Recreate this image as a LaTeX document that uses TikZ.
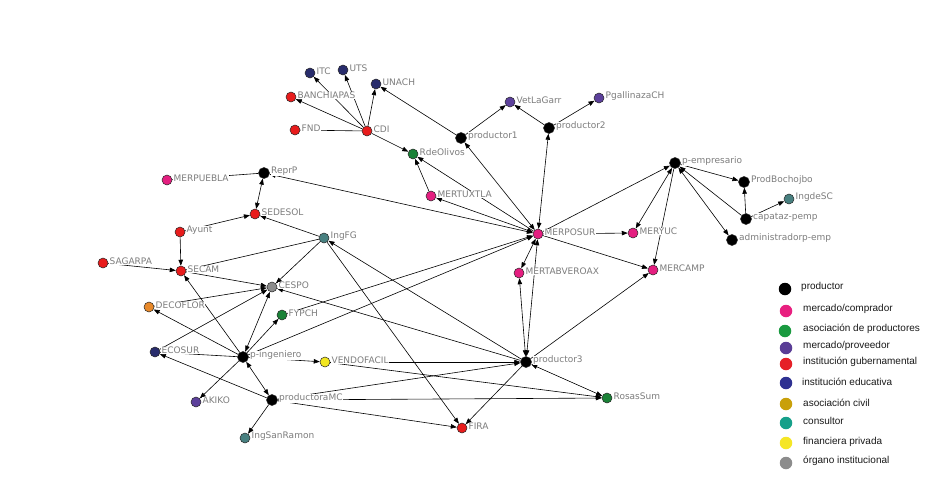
\documentclass[tikz,border=0pt]{standalone}
\usepackage{fontspec}
\newfontfamily\lblfont{DejaVu Sans}
\newfontfamily\legfont{Liberation Sans}
\usetikzlibrary{arrows.meta}
\definecolor{cpink}{RGB}{228,30,128}
\definecolor{cred}{RGB}{232,28,28}
\definecolor{cgreen}{RGB}{26,130,55}
\definecolor{cpurple}{RGB}{92,64,155}
\definecolor{cnavy}{RGB}{40,44,108}
\definecolor{cteal}{RGB}{72,128,128}
\definecolor{cgray}{RGB}{140,140,140}
\definecolor{corange}{RGB}{232,137,42}
\definecolor{cyellow}{RGB}{242,230,32}
\definecolor{labelgray}{RGB}{125,125,125}
\definecolor{lpink}{RGB}{232,32,128}
\definecolor{lgreen}{RGB}{26,154,64}
\definecolor{lpurple}{RGB}{90,61,150}
\definecolor{lred}{RGB}{229,32,39}
\definecolor{lnavy}{RGB}{46,49,146}
\definecolor{lcivil}{RGB}{201,160,10}
\definecolor{lteal}{RGB}{22,160,138}
\definecolor{lyellow}{RGB}{245,230,37}
\definecolor{lgray}{RGB}{140,140,140}
\pgfdeclarelayer{back}
\pgfdeclarelayer{edges}
\pgfsetlayers{back,edges,main}
\tikzset{
  nd/.style={circle, draw=black!85, line width=0.5pt, minimum size=10pt, inner sep=0pt},
  bk/.style={nd, fill=black, minimum size=11pt},
  lbl/.style={font=\lblfont\fontsize{9}{10}\selectfont, text=labelgray, fill=white, inner sep=0.4pt, label distance=0.8pt, yshift=1.5pt},
  L/.style={label={[lbl]0:#1}},
  tip/.tip={Triangle[length=6pt,width=4.5pt]},
  e/.style={draw=black, line width=0.6pt, -tip},
  b/.style={draw=black, line width=0.6pt, tip-tip},
  p/.style={draw=black, line width=0.6pt},
  legdot/.style={circle, minimum width=12.5pt, minimum height=11.5pt, inner sep=0pt},
  legtxt/.style={anchor=west, font=\legfont\fontsize{10}{12}\selectfont, text=black!90, inner sep=0pt}
}
\begin{document}
\begin{tikzpicture}[x=1pt,y=-1pt]
\useasboundingbox (0,0) rectangle (941,501);
\begin{pgfonlayer}{back}
\fill[white] (0,0) rectangle (941,501);
\end{pgfonlayer}
% nodes
\node[nd,fill=cnavy,L=ITC] (ITC) at (310,73) {};
\node[nd,fill=cnavy,L=UTS] (UTS) at (343,70) {};
\node[nd,fill=cnavy,L=UNACH] (UNACH) at (376,84) {};
\node[nd,fill=cred,L=BANCHIAPAS] (BANCH) at (291,97) {};
\node[nd,fill=cred,L=FND] (FND) at (295,130) {};
\node[nd,fill=cred,L=CDI] (CDI) at (367,131) {};
\node[nd,fill=cgreen,L=RdeOlivos] (RdeOl) at (413,154) {};
\node[bk,L=productor1] (prodA) at (461,138) {};
\node[nd,fill=cpurple,L=VetLaGarr] (Vet) at (510,102) {};
\node[bk,L=productor2] (prodB) at (549,128) {};
\node[nd,fill=cpurple,L=PgallinazaCH] (Pgal) at (599,98) {};
\node[bk,L=ReprP] (ReprP) at (264,173) {};
\node[nd,fill=cpink,L=MERPUEBLA] (MERPUE) at (167,180) {};
\node[nd,fill=cpink,L=MERTUXTLA] (MERTUX) at (431,196) {};
\node[nd,fill=cred,L=SEDESOL] (SEDESOL) at (255,214) {};
\node[nd,fill=cred,L=Ayunt] (Ayunt) at (180,232) {};
\node[nd,fill=cteal,L=IngFG] (IngFG) at (324,238) {};
\node[nd,fill=cpink,L=MERPOSUR] (MERPOS) at (538,234) {};
\node[nd,fill=cpink,L=MERYUC] (MERYUC) at (633,233) {};
\node[bk,L=p-empresario] (pemp) at (675,163) {};
\node[bk,L=ProdBochojbo] (ProdBo) at (744,182) {};
\node[nd,fill=cteal,L=IngdeSC] (IngdeSC) at (789,199) {};
\node[bk,L=capataz-pemp] (capataz) at (746,219) {};
\node[bk,L=administradorp-emp] (admin) at (732,240) {};
\node[nd,fill=cred,L=SAGARPA] (SAGARPA) at (103,263) {};
\node[nd,fill=cred,L=SECAM] (SECAM) at (181,271) {};
\node[nd,fill=cpink,L=MERTABVEROAX] (MERTAB) at (519,273) {};
\node[nd,fill=cpink,L=MERCAMP] (MERCAMP) at (653,270) {};
\node[nd,fill=cgray,L=CESPO] (CESPO) at (272,287) {};
\node[nd,fill=corange,L=DECOFLOR] (DECO) at (149,307) {};
\node[nd,fill=cgreen,L=FYPCH] (FYPCH) at (282,315) {};
\node[nd,fill=cnavy,L=ECOSUR] (ECOSUR) at (155,352) {};
\node[bk,L=p-ingeniero] (ping) at (243,357) {};
\node[nd,fill=cyellow,L=VENDOFACIL] (VENDO) at (325,362) {};
\node[bk,L=productor3] (prodC) at (526,362) {};
\node[nd,fill=cpurple,L=AKIKO] (AKIKO) at (196,402) {};
\node[bk,L=productoraMC] (prodMC) at (272,400) {};
\node[nd,fill=cgreen,L=RosasSum] (Rosas) at (607,398) {};
\node[nd,fill=cteal,L=IngSanRamon] (IngSR) at (245,438) {};
\node[nd,fill=cred,L=FIRA] (FIRA) at (462,428) {};
% edges
\begin{pgfonlayer}{edges}
\path[e] (CDI) -- (ITC);
\path[e] (CDI) -- (UTS);
\path[e] (CDI) -- (UNACH);
\path[e] (CDI) -- (BANCH);
\path[p] (FND) -- (CDI);
\path[e] (CDI) -- (RdeOl);
\path[e] (prodA) -- (UNACH);
\path[e] (prodA) -- (Vet);
\path[e] (prodB) -- (Vet);
\path[e] (prodB) -- (Pgal);
\path[b] (MERPOS) -- (prodB);
\path[b] (MERPOS) -- (prodA);
\path[e] (MERTUX) -- (RdeOl);
\path[e] (MERPOS) -- (RdeOl);
\path[b] (MERPOS) -- (MERTUX);
\path[b] (MERPOS) -- (ReprP);
\path[p] (MERPUE) -- (ReprP);
\path[b] (ReprP) -- (SEDESOL);
\path[e] (Ayunt) -- (SEDESOL);
\path[e] (IngFG) -- (SEDESOL);
\path[e] (Ayunt) -- (SECAM);
\path[e] (SAGARPA) -- (SECAM);
\path[p] (SECAM) -- (IngFG);
\path[e] (SECAM) -- (CESPO);
\path[e] (DECO) -- (CESPO);
\path[e] (ECOSUR) -- (CESPO);
\path[e] (ping) -- (SECAM);
\path[e] (ping) -- (DECO);
\path[p] (ECOSUR) -- (ping);
\path[b] (ping) -- (CESPO);
\path[e] (IngFG) -- (CESPO);
\path[e] (ping) -- (FYPCH);
\path[e] (ping) -- (VENDO);
\path[e] (ping) -- (AKIKO);
\path[b] (ping) -- (prodMC);
\path[e] (prodMC) -- (ECOSUR);
\path[e] (prodMC) -- (IngSR);
\path[e] (prodMC) -- (FIRA);
\path[e] (IngFG) -- (FIRA);
\path[e] (prodC) -- (IngFG);
\path[e] (prodC) -- (CESPO);
\path[e] (ping) -- (MERPOS);
\path[e] (FYPCH) -- (MERPOS);
\path[e] (VENDO) -- (prodC);
\path[e] (prodMC) -- (prodC);
\path[e] (VENDO) -- (Rosas);
\path[e] (prodMC) -- (Rosas);
\path[b] (prodC) -- (Rosas);
\path[e] (prodC) -- (FIRA);
\path[e] (prodC) -- (MERCAMP);
\path[b] (prodC) -- (MERPOS);
\path[b] (prodC) -- (MERTAB);
\path[b] (MERPOS) -- (MERTAB);
\path[e] (MERPOS) -- (pemp);
\path[b] (pemp) -- (MERYUC);
\path[e] (pemp) -- (MERCAMP);
\path[e] (MERPOS) -- (MERYUC);
\path[e] (MERPOS) -- (MERCAMP);
\path[e] (pemp) -- (ProdBo);
\path[e] (capataz) -- (ProdBo);
\path[e] (capataz) -- (pemp);
\path[e] (capataz) -- (IngdeSC);
\path[b] (pemp) -- (admin);
\end{pgfonlayer}
% legend
\node[legdot,fill=black] (g1) at (785,289) {};
\node[legtxt] (t1) at (801,287) {productor};
\node[legdot,fill=lpink] (g2) at (786,311) {};
\node[legtxt] (t2) at (803,309) {mercado/comprador};
\node[legdot,fill=lgreen] (g3) at (785,331) {};
\node[legtxt] (t3) at (803,329) {asociación de productores};
\node[legdot,fill=lpurple] (g4) at (786,348) {};
\node[legtxt] (t4) at (803,346) {mercado/proveedor};
\node[legdot,fill=lred] (g5) at (786,364) {};
\node[legtxt] (t5) at (803,362) {institución gubernamental};
\node[legdot,fill=lnavy] (g6) at (786,383) {};
\node[legtxt] (t6) at (802,382) {institución educativa};
\node[legdot,fill=lcivil] (g7) at (786,404) {};
\node[legtxt] (t7) at (803,403) {asociación civil};
\node[legdot,fill=lteal] (g8) at (786,423) {};
\node[legtxt] (t8) at (803,421) {consultor};
\node[legdot,fill=lyellow] (g9) at (786,443) {};
\node[legtxt] (t9) at (803,442) {financiera privada};
\node[legdot,fill=lgray] (g10) at (786,463) {};
\node[legtxt] (t10) at (803,461) {órgano institucional};
\end{tikzpicture}
\end{document}
